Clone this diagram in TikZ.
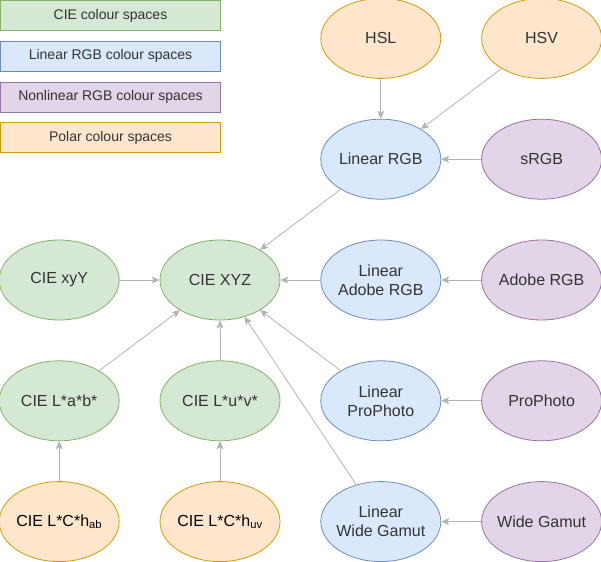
\documentclass[tikz,border=0pt]{standalone}
\usepackage{fontspec}
\setmainfont{Liberation Sans}
\usepackage{xcolor}
\usetikzlibrary{arrows.meta, positioning, shapes.geometric}

\definecolor{cieFill}{HTML}{D5E8D4}
\definecolor{cieLine}{HTML}{82B366}
\definecolor{linFill}{HTML}{DAE8FC}
\definecolor{linLine}{HTML}{6C8EBF}
\definecolor{nonFill}{HTML}{E1D5E7}
\definecolor{nonLine}{HTML}{9673A6}
\definecolor{polFill}{HTML}{FFE6CC}
\definecolor{polLine}{HTML}{D79B00}
\definecolor{txtGrey}{HTML}{333333}
\definecolor{arrGrey}{HTML}{B3B3B3}

\begin{document}
\begin{tikzpicture}[
        x=1pt, y=1pt,
        node distance=40pt and 40pt,
        space/.style={
            ellipse,
            draw,
            line width=0.8pt,
            minimum width=120pt,
            minimum height=80pt,
            inner xsep=-10pt,
            inner ysep=0pt,
            align=center,
            text=txtGrey,
            font=\fontsize{16}{19}\selectfont
        },
        cie/.style={space, fill=cieFill, draw=cieLine},
        lin/.style={space, fill=linFill, draw=linLine},
        nonlin/.style={space, fill=nonFill, draw=nonLine},
        polar/.style={space, fill=polFill, draw=polLine},
        legend/.style={
            draw,
            line width=0.8pt,
            minimum width=220pt,
            minimum height=30pt,
            text=txtGrey,
            font=\fontsize{14}{17}\selectfont
        },
        arrow/.style={-{Stealth[length=8pt, width=7pt, inset=2pt]}, arrGrey, line width=0.8pt}
    ]
        \useasboundingbox (0,0) rectangle (601,-561);

        % legend
        \node[legend, fill=cieFill, draw=cieLine] (keycie) at (110.5,-15.5) {CIE colour spaces};
        \node[legend, below=10pt of keycie, fill=linFill, draw=linLine] (keylin) {Linear RGB colour spaces};
        \node[legend, below=10pt of keylin, fill=nonFill, draw=nonLine] (keynon) {Nonlinear RGB colour spaces};
        \node[legend, below=10pt of keynon, fill=polFill, draw=polLine] (keypol) {Polar colour spaces};

        % colour spaces
        \node[cie] (xyz) at (220,-280) {CIE XYZ};
        \node[cie, left=of xyz] (xyy) {CIE xyY};
        \node[lin, right=of xyz] (linadobe) {Linear\\Adobe RGB};
        \node[nonlin, right=of linadobe] (adobe) {Adobe RGB};
        \node[lin, above=of linadobe] (linrgb) {Linear RGB};
        \node[nonlin, right=of linrgb] (srgb) {sRGB};
        \node[polar, above=of linrgb] (hsl) {HSL};
        \node[polar, right=of hsl] (hsv) {HSV};
        \node[cie, below=of xyy] (lab) {CIE L*a*b*};
        \node[cie, below=of xyz] (luv) {CIE L*u*v*};
        \node[lin, below=of linadobe] (linpro) {Linear\\ProPhoto};
        \node[nonlin, right=of linpro] (pro) {ProPhoto};
        \node[polar, below=of lab, text=black] (lchab) {CIE L*C*h\textsubscript{ab}};
        \node[polar, below=of luv, text=black] (lchuv) {CIE L*C*h\textsubscript{uv}};
        \node[lin, below=of linpro] (linwide) {Linear\\Wide Gamut};
        \node[nonlin, right=of linwide] (wide) {Wide Gamut};

        % conversions
        \draw[arrow] (hsl) -- (linrgb);
        \draw[arrow] (hsv) -- (linrgb);
        \draw[arrow] (srgb) -- (linrgb);
        \draw[arrow] (linrgb) -- (xyz);
        \draw[arrow] (xyy) -- (xyz);
        \draw[arrow] (linadobe) -- (xyz);
        \draw[arrow] (adobe) -- (linadobe);
        \draw[arrow] (lab) -- (xyz);
        \draw[arrow] (luv) -- (xyz);
        \draw[arrow] (linpro) -- (xyz);
        \draw[arrow] (pro) -- (linpro);
        \draw[arrow] (linwide) -- (xyz);
        \draw[arrow] (wide) -- (linwide);
        \draw[arrow] (lchab) -- (lab);
        \draw[arrow] (lchuv) -- (luv);
    \end{tikzpicture}
\end{document}
